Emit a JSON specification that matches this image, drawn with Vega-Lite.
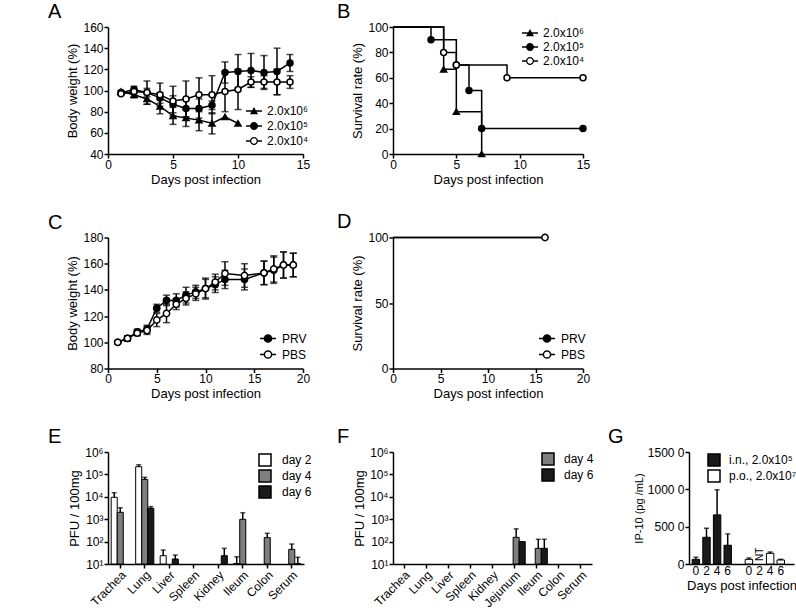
{
"$schema":"https://vega.github.io/schema/vega-lite/v6.json",
"autosize":{"type":"none"},
"padding":{"left":108,"top":27,"right":688,"bottom":587},
"config":{
 "font":"Liberation Sans",
 "view":{"stroke":null},
 "axis":{"domainColor":"#000","domainWidth":1.5,"tickColor":"#000","tickWidth":1.5,"tickSize":4,"labelColor":"#000","labelFontSize":12,"titleFontSize":13,"titleFontWeight":"normal","titleColor":"#000","grid":false,"labelPadding":1,"titlePadding":3,"labelFlush":false,"labelOverlap":false},
 "legend":{"labelFontSize":12,"labelColor":"#000","padding":0,"labelOffset":5},
 "title":{"fontSize":20,"fontWeight":"normal","anchor":"start","frame":"group","color":"#000","offset":-1}
},
"bounds":"flush",
"align":"none",
"columns":2,
"spacing":{"row":83.5,"column":89},
"resolve":{"scale":{"x":"independent","y":"independent","fill":"independent","shape":"independent"},"legend":{"fill":"independent","shape":"independent"},"axis":{"x":"independent","y":"independent"}},
"concat":[
  {"width":195,"height":127,
   "title":{"text":"A","dx":-60},
   "data":{"values":[
    {"d":1,"s":"2.0x10⁶","w":99,"sd":0},{"d":2,"s":"2.0x10⁶","w":96,"sd":3},{"d":3,"s":"2.0x10⁶","w":92,"sd":5},{"d":4,"s":"2.0x10⁶","w":85,"sd":7},{"d":5,"s":"2.0x10⁶","w":76,"sd":8},{"d":6,"s":"2.0x10⁶","w":74,"sd":8},{"d":7,"s":"2.0x10⁶","w":72,"sd":10},{"d":8,"s":"2.0x10⁶","w":69,"sd":10},{"d":9,"s":"2.0x10⁶","w":75,"sd":0},{"d":10,"s":"2.0x10⁶","w":69,"sd":0},
    {"d":1,"s":"2.0x10⁵","w":98,"sd":2},{"d":2,"s":"2.0x10⁵","w":101,"sd":3},{"d":3,"s":"2.0x10⁵","w":98,"sd":4},{"d":4,"s":"2.0x10⁵","w":93,"sd":5},{"d":5,"s":"2.0x10⁵","w":87,"sd":8},{"d":6,"s":"2.0x10⁵","w":83,"sd":8},{"d":7,"s":"2.0x10⁵","w":83,"sd":9},{"d":8,"s":"2.0x10⁵","w":86,"sd":4},{"d":9,"s":"2.0x10⁵","w":117,"sd":10},{"d":10,"s":"2.0x10⁵","w":118,"sd":16},{"d":11,"s":"2.0x10⁵","w":119,"sd":16},{"d":12,"s":"2.0x10⁵","w":117,"sd":16},{"d":13,"s":"2.0x10⁵","w":118,"sd":22},{"d":14,"s":"2.0x10⁵","w":126,"sd":8},
    {"d":1,"s":"2.0x10⁴","w":97,"sd":0},{"d":2,"s":"2.0x10⁴","w":99,"sd":2},{"d":3,"s":"2.0x10⁴","w":98,"sd":11},{"d":4,"s":"2.0x10⁴","w":96,"sd":11},{"d":5,"s":"2.0x10⁴","w":90,"sd":14},{"d":6,"s":"2.0x10⁴","w":92,"sd":17},{"d":7,"s":"2.0x10⁴","w":96,"sd":16},{"d":8,"s":"2.0x10⁴","w":96,"sd":18},{"d":9,"s":"2.0x10⁴","w":99,"sd":19},{"d":10,"s":"2.0x10⁴","w":101,"sd":19},{"d":11,"s":"2.0x10⁴","w":108,"sd":5},{"d":12,"s":"2.0x10⁴","w":108,"sd":6},{"d":13,"s":"2.0x10⁴","w":108,"sd":12},{"d":14,"s":"2.0x10⁴","w":108,"sd":6}
   ]},
   "encoding":{
    "x":{"field":"d","type":"quantitative","scale":{"domain":[0,15],"nice":false},"axis":{"values":[0,5,10,15],"title":"Days post infection"}},
    "y":{"field":"w","type":"quantitative","scale":{"domain":[40,160],"nice":false,"zero":false},"axis":{"values":[40,60,80,100,120,140,160],"title":"Body weight (%)"}}
   },
   "resolve":{"scale":{"shape":"independent"},"legend":{"shape":"independent"}},
   "layer":[
    {"transform":[{"filter":"datum.sd > 0"}],"mark":{"type":"errorbar","ticks":true,"size":7,"thickness":1.5,"color":"black"},"encoding":{"yError":{"field":"sd"}}},
    {"mark":{"type":"line","color":"black","strokeWidth":1.5},"encoding":{"detail":{"field":"s"}}},
    {"mark":{"type":"point","filled":true,"stroke":"black","strokeWidth":1.5,"size":36,"opacity":1},
     "encoding":{
      "shape":{"field":"s","type":"nominal","scale":{"domain":["2.0x10⁶","2.0x10⁵","2.0x10⁴"],"range":["triangle-up","circle","circle"]},"legend":null},
      "fill":{"field":"s","type":"nominal","scale":{"domain":["2.0x10⁶","2.0x10⁵","2.0x10⁴"],"range":["black","black","white"]},"legend":null}
     }},
    {"mark":{"type":"point","filled":true,"color":"black","opacity":0,"size":1},
     "encoding":{
      "shape":{"field":"s","type":"nominal","scale":{"domain":["2.0x10⁶","2.0x10⁵","2.0x10⁴"],"range":["M-1,-0.094H1V0.094H-1Z M0,-0.5L0.5,0.4H-0.5Z","M-1,-0.094H1V0.094H-1Z M-0.5,0A0.5,0.5 0 1,1 0.5,0A0.5,0.5 0 1,1 -0.5,0Z","M-1,-0.094H-0.45V0.094H-1Z M0.45,-0.094H1V0.094H0.45Z M-0.5,0A0.5,0.5 0 1,1 0.5,0A0.5,0.5 0 1,1 -0.5,0Z M-0.34,0A0.34,0.34 0 1,0 0.34,0A0.34,0.34 0 1,0 -0.34,0Z"]},
       "legend":{"title":null,"orient":"none","legendX":138,"legendY":76,"symbolSize":256,"rowPadding":1,"labelOffset":5,"symbolFillColor":"black","symbolStrokeWidth":0,"symbolOpacity":1}}
     }}
   ]
  },
  {"width":190,"height":127,
   "title":{"text":"B","dx":-56},
   "data":{"values":[
    {"d":0,"s":"2.0x10⁶","v":100},{"d":4,"s":"2.0x10⁶","v":66.7},{"d":5,"s":"2.0x10⁶","v":33.3},{"d":7,"s":"2.0x10⁶","v":0},
    {"d":0,"s":"2.0x10⁵","v":100},{"d":3,"s":"2.0x10⁵","v":90},{"d":5,"s":"2.0x10⁵","v":70},{"d":6,"s":"2.0x10⁵","v":50},{"d":7,"s":"2.0x10⁵","v":20},{"d":15,"s":"2.0x10⁵","v":20},
    {"d":0,"s":"2.0x10⁴","v":100},{"d":4,"s":"2.0x10⁴","v":80},{"d":5,"s":"2.0x10⁴","v":70},{"d":9,"s":"2.0x10⁴","v":60},{"d":15,"s":"2.0x10⁴","v":60}
   ]},
   "encoding":{
    "x":{"field":"d","type":"quantitative","scale":{"domain":[0,15],"nice":false},"axis":{"values":[0,5,10,15],"title":"Days post infection"}},
    "y":{"field":"v","type":"quantitative","scale":{"domain":[0,100],"nice":false},"axis":{"values":[0,20,40,60,80,100],"title":"Survival rate (%)"}}
   },
   "resolve":{"scale":{"shape":"independent"},"legend":{"shape":"independent"}},
   "layer":[
    {"mark":{"type":"line","interpolate":"step-after","color":"black","strokeWidth":1.5},"encoding":{"detail":{"field":"s"}}},
    {"transform":[{"filter":"datum.d > 0"}],
     "mark":{"type":"point","filled":true,"stroke":"black","strokeWidth":1.5,"size":36,"opacity":1},
     "encoding":{
      "shape":{"field":"s","type":"nominal","scale":{"domain":["2.0x10⁶","2.0x10⁵","2.0x10⁴"],"range":["triangle-up","circle","circle"]},"legend":null},
      "fill":{"field":"s","type":"nominal","scale":{"domain":["2.0x10⁶","2.0x10⁵","2.0x10⁴"],"range":["black","black","white"]},"legend":null}
     }},
    {"mark":{"type":"point","filled":true,"color":"black","opacity":0,"size":1},
     "encoding":{
      "shape":{"field":"s","type":"nominal","scale":{"domain":["2.0x10⁶","2.0x10⁵","2.0x10⁴"],"range":["M-1,-0.094H1V0.094H-1Z M0,-0.5L0.5,0.4H-0.5Z","M-1,-0.094H1V0.094H-1Z M-0.5,0A0.5,0.5 0 1,1 0.5,0A0.5,0.5 0 1,1 -0.5,0Z","M-1,-0.094H-0.45V0.094H-1Z M0.45,-0.094H1V0.094H0.45Z M-0.5,0A0.5,0.5 0 1,1 0.5,0A0.5,0.5 0 1,1 -0.5,0Z M-0.34,0A0.34,0.34 0 1,0 0.34,0A0.34,0.34 0 1,0 -0.34,0Z"]},
       "legend":{"title":null,"orient":"top-right","offset":-2,"symbolSize":256,"rowPadding":-2,"labelOffset":5,"symbolFillColor":"black","symbolStrokeWidth":0,"symbolOpacity":1}}
     }}
   ]
  },
  {"width":195,"height":131,
   "title":{"text":"C","dx":-60},
   "data":{"values":[
    {"d":1,"s":"PRV","w":100,"sd":1},{"d":2,"s":"PRV","w":103,"sd":2},{"d":3,"s":"PRV","w":108,"sd":2},{"d":4,"s":"PRV","w":110,"sd":3},{"d":5,"s":"PRV","w":126,"sd":3},{"d":6,"s":"PRV","w":132,"sd":4},{"d":7,"s":"PRV","w":132,"sd":5},{"d":8,"s":"PRV","w":136,"sd":6},{"d":9,"s":"PRV","w":138.5,"sd":5},{"d":10,"s":"PRV","w":141,"sd":7},{"d":11,"s":"PRV","w":144,"sd":6},{"d":12,"s":"PRV","w":148,"sd":7},{"d":14,"s":"PRV","w":148,"sd":8},{"d":16,"s":"PRV","w":153,"sd":9},{"d":17,"s":"PRV","w":155,"sd":10},{"d":18,"s":"PRV","w":159,"sd":10},{"d":19,"s":"PRV","w":159,"sd":9},
    {"d":1,"s":"PBS","w":100,"sd":1},{"d":2,"s":"PBS","w":103,"sd":2},{"d":3,"s":"PBS","w":107,"sd":2},{"d":4,"s":"PBS","w":109,"sd":3},{"d":5,"s":"PBS","w":117,"sd":5},{"d":6,"s":"PBS","w":122,"sd":7},{"d":7,"s":"PBS","w":129,"sd":4},{"d":8,"s":"PBS","w":133.5,"sd":5},{"d":9,"s":"PBS","w":137,"sd":5},{"d":10,"s":"PBS","w":141,"sd":8},{"d":11,"s":"PBS","w":146,"sd":6},{"d":12,"s":"PBS","w":152.5,"sd":9},{"d":14,"s":"PBS","w":151,"sd":9},{"d":16,"s":"PBS","w":153,"sd":9},{"d":17,"s":"PBS","w":156,"sd":10},{"d":18,"s":"PBS","w":159,"sd":10},{"d":19,"s":"PBS","w":159,"sd":9}
   ]},
   "encoding":{
    "x":{"field":"d","type":"quantitative","scale":{"domain":[0,20],"nice":false},"axis":{"values":[0,5,10,15,20],"title":"Days post infection"}},
    "y":{"field":"w","type":"quantitative","scale":{"domain":[80,180],"nice":false,"zero":false},"axis":{"values":[80,100,120,140,160,180],"title":"Body weight (%)"}}
   },
   "layer":[
    {"mark":{"type":"errorbar","ticks":true,"size":7,"thickness":1.5,"color":"black"},"encoding":{"yError":{"field":"sd"}}},
    {"mark":{"type":"line","color":"black","strokeWidth":1.5},"encoding":{"detail":{"field":"s"}}},
    {"mark":{"type":"point","filled":true,"stroke":"black","strokeWidth":1.5,"size":40,"opacity":1},
     "encoding":{
      "fill":{"field":"s","type":"nominal","scale":{"domain":["PRV","PBS"],"range":["black","white"]},
       "legend":{"title":null,"orient":"none","legendX":151,"legendY":92,"symbolSize":256,"rowPadding":-1,"labelOffset":5,"symbolType":"M-1,0H-0.45M0.45,0H1M-0.45,0A0.45,0.45 0 1,1 0.45,0A0.45,0.45 0 1,1 -0.45,0Z","symbolStrokeColor":"black","symbolStrokeWidth":1.5,"symbolOpacity":1}}
     }}
   ]
  },
  {"width":190,"height":131,
   "title":{"text":"D","dx":-56},
   "data":{"values":[
    {"d":0,"s":"PRV","v":100},{"d":16,"s":"PRV","v":100},{"d":0,"s":"PBS","v":100},{"d":16,"s":"PBS","v":100}
   ]},
   "encoding":{
    "x":{"field":"d","type":"quantitative","scale":{"domain":[0,20],"nice":false},"axis":{"values":[0,5,10,15,20],"title":"Days post infection"}},
    "y":{"field":"v","type":"quantitative","scale":{"domain":[0,100],"nice":false},"axis":{"values":[0,50,100],"title":"Survival rate (%)"}}
   },
   "layer":[
    {"mark":{"type":"line","color":"black","strokeWidth":1.5},"encoding":{"detail":{"field":"s"}}},
    {"transform":[{"filter":"datum.s === 'PBS' && datum.d > 0"}],
     "mark":{"type":"point","filled":true,"stroke":"black","strokeWidth":1.5,"size":40,"opacity":1},
     "encoding":{
      "fill":{"field":"s","type":"nominal","scale":{"domain":["PRV","PBS"],"range":["black","white"]},
       "legend":{"title":null,"orient":"none","legendX":145,"legendY":92,"symbolSize":256,"rowPadding":-1,"labelOffset":5,"symbolType":"M-1,0H-0.45M0.45,0H1M-0.45,0A0.45,0.45 0 1,1 0.45,0A0.45,0.45 0 1,1 -0.45,0Z","symbolStrokeColor":"black","symbolStrokeWidth":1.5,"symbolOpacity":1}}
     }}
   ]
  },
 {"width":196,"height":112,
  "title":{"text":"E","dx":-60},
  "data":{"values":[
   {"o":"Trachea","day":"day 2","v":9500,"hi":15200},
   {"o":"Trachea","day":"day 4","v":2030,"hi":3240},
   {"o":"Lung","day":"day 2","v":221000,"hi":270000},
   {"o":"Lung","day":"day 4","v":60000,"hi":74000},
   {"o":"Lung","day":"day 6","v":3050,"hi":3630},
   {"o":"Liver","day":"day 2","v":23.5,"hi":42},
   {"o":"Liver","day":"day 6","v":16.7,"hi":25},
   {"o":"Kidney","day":"day 6","v":23.5,"hi":50},
   {"o":"Ileum","day":"day 2","v":10.5,"hi":21},
   {"o":"Ileum","day":"day 4","v":990,"hi":1950},
   {"o":"Colon","day":"day 4","v":150,"hi":235},
   {"o":"Serum","day":"day 4","v":45,"hi":78},
   {"o":"Serum","day":"day 6","v":10.5,"hi":20}
  ]},
  "encoding":{
   "x":{"field":"o","type":"nominal","sort":null,"scale":{"domain":["Trachea","Lung","Liver","Spleen","Kidney","Ileum","Colon","Serum"],"paddingInner":0.26,"paddingOuter":0.13},"axis":{"title":null,"labelAngle":-45,"labelFontSize":12}},
   "xOffset":{"field":"day","type":"nominal","scale":{"domain":["day 2","day 4","day 6"]}},
   "y":{"field":"v","type":"quantitative","scale":{"type":"log","domain":[10,1000000],"nice":false},"axis":{"values":[10,100,1000,10000,100000,1000000],"title":"PFU / 100mg","labelExpr":"datum.value == 10 ? '10¹' : datum.value == 100 ? '10²' : datum.value == 1000 ? '10³' : datum.value == 10000 ? '10⁴' : datum.value == 100000 ? '10⁵' : '10⁶'"}}
  },
  "layer":[
   {"mark":{"type":"bar","stroke":"black","strokeWidth":1},
    "encoding":{
     "y2":{"datum":10},
     "fill":{"field":"day","type":"nominal","scale":{"domain":["day 2","day 4","day 6"],"range":["white","#7f7f7f","#1a1a1a"]},
      "legend":{"title":null,"orient":"none","legendX":150,"legendY":1,"symbolSize":144,"rowPadding":-2,"labelOffset":10,"symbolType":"square","symbolStrokeColor":"black","symbolStrokeWidth":1.5,"symbolOpacity":1}}
    }},
   {"mark":{"type":"rule","color":"black","strokeWidth":1.5},"encoding":{"y2":{"field":"hi"}}},
   {"mark":{"type":"tick","color":"black","thickness":1.5,"size":5},"encoding":{"y":{"field":"hi","type":"quantitative"}}}
  ]
 },
 {"bounds":"flush","spacing":97,
  "resolve":{"scale":{"x":"independent","y":"independent","fill":"independent","shape":"independent"},"legend":{"fill":"independent","shape":"independent"},"axis":{"x":"independent","y":"independent"}},
  "hconcat":[
  {"width":199,"height":112,
   "title":{"text":"F","dx":-56},
   "data":{"values":[
    {"o":"Jejunum","day":"day 4","v":155,"hi":370},
    {"o":"Jejunum","day":"day 6","v":100,"hi":100},
    {"o":"Ileum","day":"day 4","v":50,"hi":127},
    {"o":"Ileum","day":"day 6","v":50,"hi":127}
   ]},
   "encoding":{
    "x":{"field":"o","type":"nominal","sort":null,"scale":{"domain":["Trachea","Lung","Liver","Spleen","Kidney","Jejunum","Ileum","Colon","Serum"],"paddingInner":0.32,"paddingOuter":0.16},"axis":{"title":null,"labelAngle":-45,"labelFontSize":12}},
    "xOffset":{"field":"day","type":"nominal","scale":{"domain":["day 4","day 6"]}},
    "y":{"field":"v","type":"quantitative","scale":{"type":"log","domain":[10,1000000],"nice":false},"axis":{"values":[10,100,1000,10000,100000,1000000],"title":"PFU / 100mg","labelExpr":"datum.value == 10 ? '10¹' : datum.value == 100 ? '10²' : datum.value == 1000 ? '10³' : datum.value == 10000 ? '10⁴' : datum.value == 100000 ? '10⁵' : '10⁶'"}}
   },
   "layer":[
    {"mark":{"type":"bar","stroke":"black","strokeWidth":1},
     "encoding":{
      "y2":{"datum":10},
      "fill":{"field":"day","type":"nominal","scale":{"domain":["day 4","day 6"],"range":["#7f7f7f","#1a1a1a"]},
       "legend":{"title":null,"orient":"none","legendX":148,"legendY":0,"symbolSize":144,"rowPadding":-3,"labelOffset":9,"symbolType":"square","symbolStrokeColor":"black","symbolStrokeWidth":1.5,"symbolOpacity":1}}
     }},
    {"transform":[{"filter":"datum.hi > datum.v"}],"mark":{"type":"rule","color":"black","strokeWidth":1.5},"encoding":{"y2":{"field":"hi"}}},
    {"transform":[{"filter":"datum.hi > datum.v"}],"mark":{"type":"tick","color":"black","thickness":1.5,"size":5},"encoding":{"y":{"field":"hi","type":"quantitative"}}}
   ]
  },
  {"width":105,"height":112,
   "title":{"text":"G","dx":-81},
   "data":{"values":[
    {"c":"in0","r":"i.n., 2.0x10⁵","v":620,"hi":900},
    {"c":"in2","r":"i.n., 2.0x10⁵","v":3580,"hi":4790},
    {"c":"in4","r":"i.n., 2.0x10⁵","v":6580,"hi":9940},
    {"c":"in6","r":"i.n., 2.0x10⁵","v":2510,"hi":4030},
    {"c":"po0","r":"p.o., 2.0x10⁷","v":620,"hi":810},
    {"c":"po4","r":"p.o., 2.0x10⁷","v":1430,"hi":1610},
    {"c":"po6","r":"p.o., 2.0x10⁷","v":540,"hi":630}
   ]},
   "encoding":{
    "x":{"field":"c","type":"nominal","sort":null,"scale":{"domain":["in0","in2","in4","in6","gap","po0","po2","po4","po6"],"paddingInner":0.3,"paddingOuter":0.6,"align":0.25},"axis":{"title":"Days post infection","labelAngle":0,"ticks":false,"labelExpr":"datum.value == 'gap' ? '' : substring(datum.value, 2)"}},
    "y":{"field":"v","type":"quantitative","stack":null,"scale":{"domain":[0,15000],"nice":false},"axis":{"values":[0,5000,10000,15000],"labelOverlap":false,"title":"IP-10 (pg /mL)","titleFontSize":11,"labelExpr":"datum.value == 0 ? '0' : datum.value == 5000 ? '500 0' : datum.value == 10000 ? '1000 0' : '1500 0'"}}
   },
   "layer":[
    {"mark":{"type":"bar","stroke":"black","strokeWidth":1},
     "encoding":{
      "y2":{"datum":0},
      "fill":{"field":"r","type":"nominal","scale":{"domain":["i.n., 2.0x10⁵","p.o., 2.0x10⁷"],"range":["#1a1a1a","white"]},
       "legend":{"title":null,"orient":"none","legendX":18,"legendY":1,"symbolSize":144,"rowPadding":-3,"labelOffset":8,"symbolType":"square","symbolStrokeColor":"black","symbolStrokeWidth":1.5,"symbolOpacity":1}}
     }},
    {"mark":{"type":"rule","color":"black","strokeWidth":1.5},"encoding":{"y2":{"field":"hi"}}},
    {"mark":{"type":"tick","color":"black","thickness":1.5,"size":5},"encoding":{"y":{"field":"hi","type":"quantitative"}}},
    {"data":{"values":[{"c":"po2","t":"NT","v":0}]},
     "mark":{"type":"text","angle":270,"align":"left","baseline":"middle","dx":3,"fontSize":10,"color":"black"},
     "encoding":{"text":{"field":"t"}}}
   ]
  }
 ]}
]
}
